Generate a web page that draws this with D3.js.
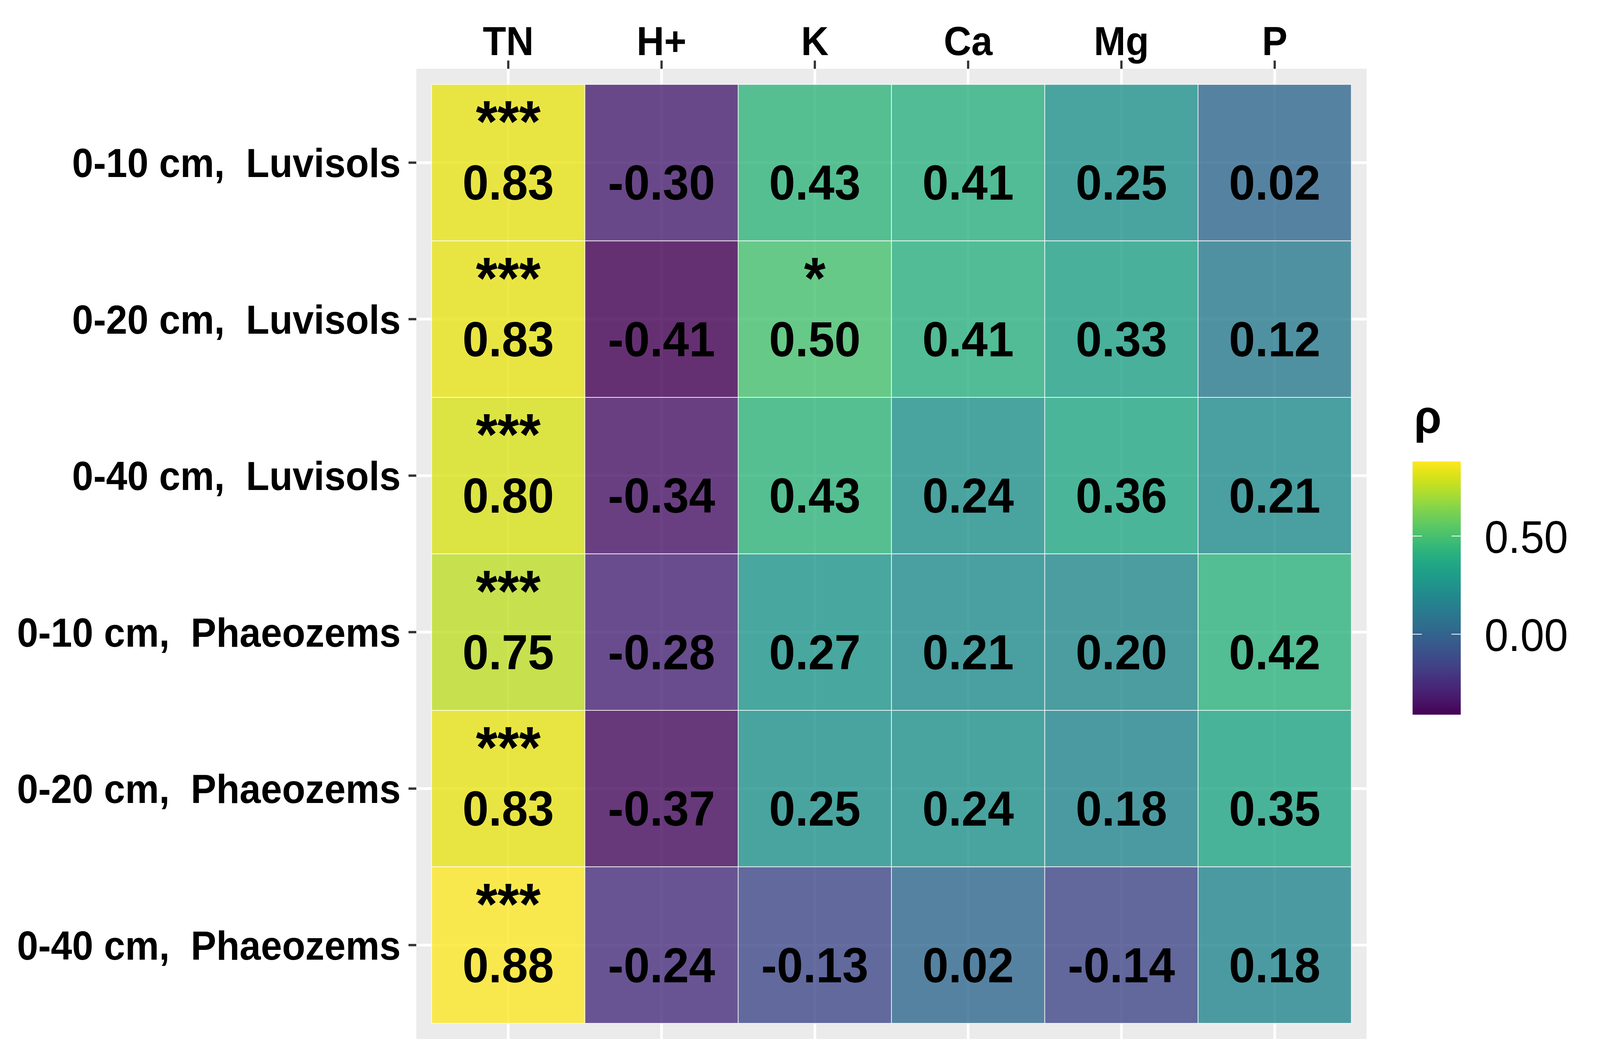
<!DOCTYPE html>
<html lang="en">
<head>
    <meta charset="UTF-8">
    <title>Correlation heatmap</title>
    <script src="https://d3js.org/d3.v7.min.js"></script>
    <style>
        html, body { margin: 0; padding: 0; background: white; overflow: hidden; }
        #chart svg { display: block; width: 100vw; height: 100vh; }
        svg { font-family: "Liberation Sans", Arial, sans-serif; }
        .axis-label { font-size: 103px; font-weight: bold; fill: black; white-space: pre; }
        .cell-value { font-size: 127px; font-weight: bold; fill: black; }
        .cell-star { font-size: 150px; font-weight: bold; fill: black; }
        .legend-label { font-size: 116px; fill: black; }
        .legend-title { font-size: 120px; font-weight: bold; fill: black; }
    </style>
</head>
<body>
    <div id="chart"></div>
    <script>
        // data
        const rows = ["0-10 cm,  Luvisols", "0-20 cm,  Luvisols", "0-40 cm,  Luvisols",
                      "0-10 cm,  Phaeozems", "0-20 cm,  Phaeozems", "0-40 cm,  Phaeozems"];
        const cols = ["TN", "H+", "K", "Ca", "Mg", "P"];
        const values = [
            [0.83, -0.30, 0.43, 0.41, 0.25, 0.02],
            [0.83, -0.41, 0.50, 0.41, 0.33, 0.12],
            [0.80, -0.34, 0.43, 0.24, 0.36, 0.21],
            [0.75, -0.28, 0.27, 0.21, 0.20, 0.42],
            [0.83, -0.37, 0.25, 0.24, 0.18, 0.35],
            [0.88, -0.24, -0.13, 0.02, -0.14, 0.18]
        ];
        const stars = [
            ["***", "", "", "", "", ""],
            ["***", "", "*", "", "", ""],
            ["***", "", "", "", "", ""],
            ["***", "", "", "", "", ""],
            ["***", "", "", "", "", ""],
            ["***", "", "", "", "", ""]
        ];
        const legendTicks = [0, 0.5];

        const width = 4320, height = 2700;

        // panel area (grey background), tiles sit 0.1 band inside
        const panel = {left: 1124, right: 3690, top: 176, bottom: 2659};
        const bandW = (panel.right - panel.left) / 6.2;
        const bandH = (panel.bottom - panel.top) / 6.2;

        const x = d3.scaleBand()
            .domain(cols)
            .range([panel.left + 0.1 * bandW, panel.right - 0.1 * bandW]);
        const y = d3.scaleBand()
            .domain(rows)
            .range([panel.top + 0.1 * bandH, panel.bottom - 0.1 * bandH]);

        const flat = [];
        rows.forEach((r, i) => cols.forEach((c, j) => {
            flat.push({row: r, col: c, value: values[i][j], star: stars[i][j]});
        }));

        const vmin = d3.min(flat, d => d.value);
        const vmax = d3.max(flat, d => d.value);
        const color = d3.scaleSequential(d3.interpolateViridis).domain([vmin, vmax]);

        // stretch the drawing to the whole window
        const svg = d3.select("#chart")
            .append("svg")
            .attr("viewBox", `0 0 ${width} ${height}`)
            .attr("preserveAspectRatio", "none");

        // panel background
        svg.append("rect")
            .attr("x", panel.left)
            .attr("y", panel.top)
            .attr("width", panel.right - panel.left)
            .attr("height", panel.bottom - panel.top)
            .attr("fill", "#EBEBEB");

        // grid lines
        svg.selectAll(".vgrid")
            .data(cols)
            .enter()
            .append("line")
            .attr("x1", d => x(d) + x.bandwidth() / 2)
            .attr("x2", d => x(d) + x.bandwidth() / 2)
            .attr("y1", panel.top)
            .attr("y2", panel.bottom)
            .attr("stroke", "white")
            .attr("stroke-width", 7);

        svg.selectAll(".hgrid")
            .data(rows)
            .enter()
            .append("line")
            .attr("y1", d => y(d) + y.bandwidth() / 2)
            .attr("y2", d => y(d) + y.bandwidth() / 2)
            .attr("x1", panel.left)
            .attr("x2", panel.right)
            .attr("stroke", "white")
            .attr("stroke-width", 7);

        // tiles
        svg.selectAll(".tile")
            .data(flat)
            .enter()
            .append("rect")
            .attr("class", "tile")
            .attr("x", d => x(d.col))
            .attr("y", d => y(d.row))
            .attr("width", x.bandwidth())
            .attr("height", y.bandwidth())
            .attr("fill", d => color(d.value))
            .attr("fill-opacity", 0.8)
            .attr("stroke", "white")
            .attr("stroke-opacity", 0.8)
            .attr("stroke-width", 2);

        // cell texts
        svg.selectAll(".cell-value")
            .data(flat)
            .enter()
            .append("text")
            .attr("class", "cell-value")
            .attr("x", d => x(d.col) + x.bandwidth() / 2)
            .attr("y", d => y(d.row) + y.bandwidth() / 2 + 95)
            .attr("text-anchor", "middle")
            .text(d => d.value.toFixed(2));

        svg.selectAll(".cell-star")
            .data(flat.filter(d => d.star))
            .enter()
            .append("text")
            .attr("class", "cell-star")
            .attr("x", d => x(d.col) + x.bandwidth() / 2)
            .attr("y", d => y(d.row) + y.bandwidth() / 2 - 53)
            .attr("text-anchor", "middle")
            .text(d => d.star);

        // top axis
        cols.forEach(c => {
            const cx = x(c) + x.bandwidth() / 2;
            svg.append("line")
                .attr("x1", cx).attr("x2", cx)
                .attr("y1", panel.top - 21).attr("y2", panel.top)
                .attr("stroke", "#333333")
                .attr("stroke-width", 6);
            svg.append("text")
                .attr("class", "axis-label")
                .attr("x", cx)
                .attr("y", 141)
                .attr("text-anchor", "middle")
                .text(c);
        });

        // left axis
        rows.forEach(r => {
            const cy = y(r) + y.bandwidth() / 2;
            svg.append("line")
                .attr("x1", panel.left - 21).attr("x2", panel.left)
                .attr("y1", cy).attr("y2", cy)
                .attr("stroke", "#333333")
                .attr("stroke-width", 6);
            svg.append("text")
                .attr("class", "axis-label")
                .attr("x", panel.left - 42)
                .attr("y", cy)
                .attr("dy", "0.36em")
                .attr("text-anchor", "end")
                .text(r);
        });

        // colour bar legend
        const bar = {x: 3814, w: 130, top: 1181, bottom: 1829};
        const ly = d3.scaleLinear().domain([vmin, vmax]).range([bar.bottom, bar.top]);

        const grad = svg.append("defs")
            .append("linearGradient")
            .attr("id", "viridis-grad")
            .attr("x1", "0%").attr("x2", "0%")
            .attr("y1", "100%").attr("y2", "0%");
        d3.range(0, 1.0001, 0.02).forEach(t => {
            grad.append("stop")
                .attr("offset", (t * 100) + "%")
                .attr("stop-color", d3.interpolateViridis(t));
        });

        svg.append("rect")
            .attr("x", bar.x)
            .attr("y", bar.top)
            .attr("width", bar.w)
            .attr("height", bar.bottom - bar.top)
            .attr("fill", "url(#viridis-grad)");

        legendTicks.forEach(t => {
            const ty = ly(t);
            svg.append("line")
                .attr("x1", bar.x).attr("x2", bar.x + 25)
                .attr("y1", ty).attr("y2", ty)
                .attr("stroke", "white").attr("stroke-width", 2);
            svg.append("line")
                .attr("x1", bar.x + bar.w - 25).attr("x2", bar.x + bar.w)
                .attr("y1", ty).attr("y2", ty)
                .attr("stroke", "white").attr("stroke-width", 2);
            svg.append("text")
                .attr("class", "legend-label")
                .attr("x", 4008)
                .attr("y", ty)
                .attr("dy", "0.37em")
                .text(t.toFixed(2));
        });

        svg.append("text")
            .attr("class", "legend-title")
            .attr("x", 3818)
            .attr("y", 1108)
            .text("ρ");
    </script>
</body>
</html>
